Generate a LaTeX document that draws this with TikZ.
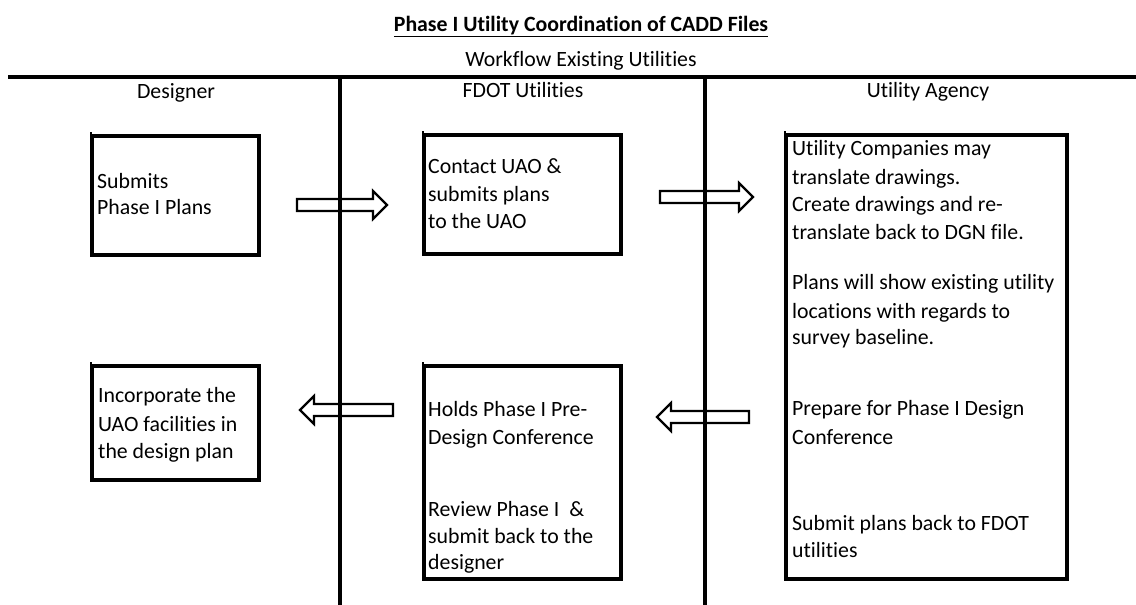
\documentclass[tikz,border=0pt]{standalone}
\usepackage{fontspec}
\setmainfont{Carlito}[Ligatures=NoCommon]
\usetikzlibrary{calc}
\tikzset{
  box/.style={draw, line width=3.4pt, inner sep=0pt, outer sep=0pt, anchor=north west},
  txt/.style={font=\fontsize{21.8pt}{27.5pt}\selectfont, inner sep=0pt, anchor=base west},
  hdr/.style={font=\fontsize{21.8pt}{27.5pt}\selectfont, inner sep=0pt, anchor=base},
  lane/.style={line width=3.2pt},
  barrow/.style={draw, line width=2.2pt, fill=white, line join=miter},
}
\newcommand\myarrowR[2]{\draw[barrow] ($(#1)+(0,-6)$) -- ($(#2)+(-14,-6)$) -- ($(#2)+(-14,-14)$) -- (#2) -- ($(#2)+(-14,14)$) -- ($(#2)+(-14,6)$) -- ($(#1)+(0,6)$) -- cycle;}
\newcommand\myarrowL[2]{\draw[barrow] ($(#1)+(0,-6)$) -- ($(#2)+(14,-6)$) -- ($(#2)+(14,-14)$) -- (#2) -- ($(#2)+(14,14)$) -- ($(#2)+(14,6)$) -- ($(#1)+(0,6)$) -- cycle;}
\begin{document}
\begin{tikzpicture}[x=1pt,y=-1pt]
\useasboundingbox (0,0) rectangle (1136,605);
% titles
\node[hdr, font=\fontsize{21.8pt}{27.5pt}\selectfont\bfseries] (title) at (581,31) {\underline{Phase I Utility Coordination of CADD Files}};
\node[hdr] (sub) at (581,66) {Workflow Existing Utilities};
% lanes
\coordinate (topL) at (8,77);
\coordinate (topR) at (1136,77);
\draw[line width=4pt] (topL) -- (topR);
\node[hdr] (h1) at (176,98) {Designer};
\node[hdr] (h2) at (523,97) {FDOT Utilities};
\node[hdr] (h3) at (928,97) {Utility Agency};
% boxes
\node[box, minimum width=167pt, minimum height=119pt] (b1) at (92,136) {};
\node[box, minimum width=197pt, minimum height=119pt] (b2) at (424,135) {};
\node[box, minimum width=281pt, minimum height=444pt] (b3) at (786,135) {};
\node[box, minimum width=167pt, minimum height=114pt] (b4) at (92,366) {};
\node[box, minimum width=197pt, minimum height=213pt] (b5) at (424,366) {};
\foreach \b in {b1,b2,b3,b4,b5}
  \draw[line width=2pt] ($(\b.north west)+(-0.7,0)$) -- ++(0,-4.5);
% texts
\foreach \t/\y [count=\i] in {Submits/188, Phase I Plans/214}
  \node[txt] (b1t\i) at (97,\y) {\t};
\foreach \t/\y [count=\i] in {Contact UAO \&/173, submits plans/201, to the UAO/228}
  \node[txt] (b2t\i) at (428,\y) {\t};
\foreach \t/\y [count=\i] in {Utility Companies may/155, translate drawings./184, Create drawings and re-/211, translate back to DGN file./239, Plans will show existing utility/289, locations with regards to/318, survey baseline./344, Prepare for Phase I Design/415, Conference/444, Submit plans back to FDOT/530, utilities/557}
  \node[txt] (b3t\i) at (792,\y) {\t};
\foreach \t/\y [count=\i] in {Incorporate the/402, UAO facilities in/431, the design plan/458}
  \node[txt] (b4t\i) at (98,\y) {\t};
\foreach \t/\y [count=\i] in {Holds Phase I Pre-/416, Design Conference/444, Review Phase I~ \&/516, submit back to the/543, designer/569}
  \node[txt] (b5t\i) at (428,\y) {\t};
% block arrows
\coordinate (a1s) at (297,205); \coordinate (a1e) at (387,205);
\coordinate (a2s) at (660,197); \coordinate (a2e) at (753,197);
\coordinate (a3s) at (749,417); \coordinate (a3e) at (657,417);
\coordinate (a4s) at (393,410); \coordinate (a4e) at (300,410);
\myarrowR{a1s}{a1e}
\myarrowR{a2s}{a2e}
\myarrowL{a3s}{a3e}
\myarrowL{a4s}{a4e}
% lane separators
\coordinate (l1t) at (340,77); \coordinate (l1b) at (340,605);
\coordinate (l2t) at (705,77); \coordinate (l2b) at (705,605);
\draw[lane] (l1t) -- (l1b);
\draw[lane] (l2t) -- (l2b);
\end{tikzpicture}
\end{document}
